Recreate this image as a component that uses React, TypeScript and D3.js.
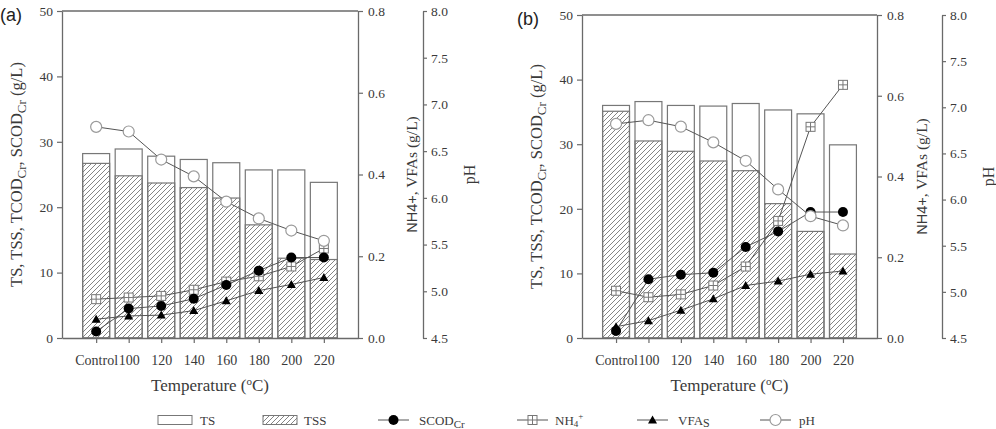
import { useEffect, useRef } from 'react'
import * as d3 from 'd3'

const categories = ['Control', '100', '120', '140', '160', '180', '200', '220']

// panel (a)
const tsA = [28.2, 28.9, 27.8, 27.3, 26.8, 25.7, 25.7, 23.8]
const tssA = [26.7, 24.8, 23.7, 23.0, 21.4, 17.3, 12.2, 12.0]
const scodA = [1.0, 4.5, 4.9, 6.0, 8.1, 10.3, 12.3, 12.3]
const nh4A = [0.095, 0.099, 0.103, 0.118, 0.138, 0.151, 0.175, 0.219]
const vfaA = [0.046, 0.054, 0.056, 0.067, 0.091, 0.116, 0.131, 0.148]
const phA = [6.76, 6.71, 6.41, 6.23, 5.96, 5.78, 5.65, 5.54]

// panel (b)
const tsB = [36.0, 36.6, 36.0, 35.9, 36.3, 35.3, 34.7, 29.9]
const tssB = [35.1, 30.5, 28.9, 27.4, 25.9, 20.8, 16.5, 13.0]
const scodB = [1.1, 9.1, 9.8, 10.1, 14.1, 16.5, 19.5, 19.5]
const nh4B = [0.117, 0.101, 0.108, 0.130, 0.177, 0.290, 0.523, 0.627]
const vfaB = [0.028, 0.043, 0.069, 0.097, 0.130, 0.141, 0.158, 0.166]
const phB = [6.82, 6.86, 6.79, 6.62, 6.42, 6.11, 5.82, 5.72]

const leftTicks = [0, 10, 20, 30, 40, 50]
const rightTicks = [0, 0.2, 0.4, 0.6, 0.8]
const phTicks = [4.5, 5.0, 5.5, 6.0, 6.5, 7.0, 7.5, 8.0]

const SERIF = '"Liberation Serif", "Times New Roman", serif'
const SANS = '"Liberation Sans", Arial, sans-serif'
const AXIS = '#6a6a6a'
const TEXT = '#3a3a3a'
const LINE = '#555'

type Sel = d3.Selection<SVGGElement, unknown, null, undefined>

interface Panel {
  tag: string
  left: number
  right: number
  top: number
  bottom: number
  rightLabelX: number
  ts: number[]
  tss: number[]
  scod: number[]
  nh4: number[]
  vfa: number[]
  ph: number[]
}

const panels: Panel[] = [
  { tag: '(a)', left: 62, right: 358, top: 11, bottom: 338, rightLabelX: 417,
    ts: tsA, tss: tssA, scod: scodA, nh4: nh4A, vfa: vfaA, ph: phA },
  { tag: '(b)', left: 582, right: 877, top: 15, bottom: 338, rightLabelX: 927,
    ts: tsB, tss: tssB, scod: scodB, nh4: nh4B, vfa: vfaB, ph: phB },
]

function styleAxis(a: Sel, size = '13.5px') {
  a.select('.domain').attr('stroke', AXIS).attr('stroke-width', 1.3)
  a.selectAll('.tick line').attr('stroke', AXIS).attr('stroke-width', 1.2)
  a.selectAll('.tick text')
    .attr('fill', TEXT)
    .style('font-family', SERIF)
    .style('font-size', size)
}

// marker helpers
function filledCircle(g: Sel, cx: number, cy: number) {
  g.append('circle').attr('cx', cx).attr('cy', cy).attr('r', 5).attr('fill', '#000')
}
function openCircle(g: Sel, cx: number, cy: number) {
  g.append('circle').attr('cx', cx).attr('cy', cy).attr('r', 5.5)
    .attr('fill', '#fff').attr('stroke', '#9a9a9a').attr('stroke-width', 1.2)
}
function crossSquare(g: Sel, cx: number, cy: number) {
  const s = 4.5
  g.append('rect').attr('x', cx - s).attr('y', cy - s).attr('width', 2 * s).attr('height', 2 * s)
    .attr('fill', '#fff').attr('stroke', '#777').attr('stroke-width', 1)
  g.append('path').attr('d', `M${cx - s},${cy}H${cx + s}M${cx},${cy - s}V${cy + s}`)
    .attr('stroke', '#777').attr('stroke-width', 1)
}
function triangle(g: Sel, cx: number, cy: number) {
  g.append('path').attr('d', `M${cx},${cy - 4.5}L${cx + 4.5},${cy + 3.5}L${cx - 4.5},${cy + 3.5}Z`)
    .attr('fill', '#000')
}

function drawPanel(svg: Sel, p: Panel) {
  const x = d3.scalePoint<string>().domain(categories).range([p.left, p.right]).padding(1.05)
  const y = d3.scaleLinear().domain([0, 50]).range([p.bottom, p.top])
  const yR = d3.scaleLinear().domain([0, 0.8]).range([p.bottom, p.top])
  const yPh = d3.scaleLinear().domain([4.5, 8]).range([p.bottom, p.top])
  const bw = x.step() * 0.83
  const g = svg.append('g')

  // bars: TS outline, TSS hatched
  g.selectAll('.ts').data(p.ts).join('rect')
    .attr('x', (d, i) => x(categories[i])! - bw / 2)
    .attr('y', d => y(d))
    .attr('width', bw)
    .attr('height', d => y(0) - y(d))
    .attr('fill', '#fff').attr('stroke', '#777').attr('stroke-width', 1.2)
  g.selectAll('.tss').data(p.tss).join('rect')
    .attr('x', (d, i) => x(categories[i])! - bw / 2)
    .attr('y', d => y(d))
    .attr('width', bw)
    .attr('height', d => y(0) - y(d))
    .attr('fill', 'url(#hatch)').attr('stroke', '#777').attr('stroke-width', 1.2)

  // frame top
  g.append('line').attr('x1', p.left).attr('x2', p.right).attr('y1', p.top).attr('y2', p.top)
    .attr('stroke', AXIS).attr('stroke-width', 1.3)

  // axes
  const ax = g.append('g').attr('transform', `translate(0,${p.bottom})`)
    .call(d3.axisBottom(x).tickSize(5).tickSizeOuter(0).tickPadding(12))
  styleAxis(ax, '14px')
  const al = g.append('g').attr('transform', `translate(${p.left},0)`)
    .call(d3.axisLeft(y).tickValues(leftTicks).tickSize(5).tickSizeOuter(0).tickPadding(4))
  styleAxis(al)
  const ar = g.append('g').attr('transform', `translate(${p.right},0)`)
    .call(d3.axisRight(yR).tickValues(rightTicks).tickFormat(d3.format('.1f')).tickSize(5).tickSizeOuter(0).tickPadding(5))
  styleAxis(ar)
  const ap = g.append('g').attr('transform', `translate(${p.right + 65},0)`)
    .call(d3.axisRight(yPh).tickValues(phTicks).tickFormat(d3.format('.1f')).tickSize(4).tickSizeOuter(0).tickPadding(4))
  styleAxis(ap)

  // series lines
  const series: { vals: number[]; sc: d3.ScaleLinear<number, number>; mk: (g: Sel, cx: number, cy: number) => void }[] = [
    { vals: p.nh4, sc: yR, mk: crossSquare },
    { vals: p.vfa, sc: yR, mk: triangle },
    { vals: p.scod, sc: y, mk: filledCircle },
    { vals: p.ph, sc: yPh, mk: openCircle },
  ]
  series.forEach(s => {
    const line = d3.line<number>().x((d, i) => x(categories[i])!).y(d => s.sc(d))
    g.append('path').attr('d', line(s.vals)).attr('fill', 'none').attr('stroke', LINE).attr('stroke-width', 1)
  })
  series.forEach(s => {
    const mg = g.append('g')
    s.vals.forEach((v, i) => s.mk(mg, x(categories[i])!, s.sc(v)))
  })

  // titles
  const mid = (p.top + p.bottom) / 2
  const lt = g.append('text')
    .attr('transform', `translate(${p.left - 40},${mid}) rotate(-90)`)
    .attr('text-anchor', 'middle')
    .attr('fill', TEXT).style('font-family', SERIF).style('font-size', '16.5px')
  lt.append('tspan').text('TS, TSS, TCOD')
  lt.append('tspan').attr('dy', 4).style('font-size', '13px').text('Cr')
  lt.append('tspan').attr('dy', -4).text(', SCOD')
  lt.append('tspan').attr('dy', 4).style('font-size', '13px').text('Cr')
  lt.append('tspan').attr('dy', -4).text(' (g/L)')

  const rt = g.append('text')
    .attr('transform', `translate(${p.rightLabelX},${mid}) rotate(-90)`)
    .attr('text-anchor', 'middle')
    .attr('fill', TEXT).style('font-size', '15.5px')
  rt.append('tspan').style('font-family', SANS).style('font-size', '14.5px').text('NH4+')
  rt.append('tspan').style('font-family', SERIF).text(', VFAs (g/L)')

  g.append('text')
    .attr('transform', `translate(${p.right + 117},${mid}) rotate(-90)`)
    .attr('text-anchor', 'middle')
    .attr('fill', TEXT).style('font-family', SERIF).style('font-size', '16px')
    .text('pH')

  const xt = g.append('text')
    .attr('x', (p.left + p.right) / 2).attr('y', 391)
    .attr('text-anchor', 'middle')
    .attr('fill', TEXT).style('font-family', SERIF).style('font-size', '17px')
  xt.append('tspan').text('Temperature (')
  xt.append('tspan').attr('dy', -6).style('font-size', '11px').text('o')
  xt.append('tspan').attr('dy', 6).text('C)')

  g.append('text')
    .attr('x', p.tag === '(b)' ? 517 : 0).attr('y', p.top + 10)
    .attr('fill', '#222').style('font-family', SANS).style('font-size', '18px')
    .text(p.tag)
}

function drawLegend(svg: Sel) {
  const g = svg.append('g')
  const ly = 420
  const txt = (xp: number) => g.append('text').attr('x', xp).attr('y', ly + 5)
    .attr('fill', TEXT).style('font-family', SERIF).style('font-size', '13px')

  g.append('rect').attr('x', 158).attr('y', ly - 4.5).attr('width', 34).attr('height', 9)
    .attr('fill', '#fff').attr('stroke', '#777').attr('stroke-width', 1)
  txt(200).text('TS')
  g.append('rect').attr('x', 263).attr('y', ly - 4.5).attr('width', 34).attr('height', 9)
    .attr('fill', 'url(#hatch)').attr('stroke', '#777').attr('stroke-width', 1)
  txt(304).text('TSS')

  const item = (x0: number, mk: (g: Sel, cx: number, cy: number) => void) => {
    g.append('line').attr('x1', x0).attr('x2', x0 + 31).attr('y1', ly).attr('y2', ly)
      .attr('stroke', LINE).attr('stroke-width', 1)
    mk(g, x0 + 15.5, ly)
  }
  item(378, filledCircle)
  const t1 = txt(419)
  t1.append('tspan').text('SCOD')
  t1.append('tspan').attr('dy', 3).style('font-size', '11px').text('Cr')

  item(517, crossSquare)
  const t2 = txt(555)
  t2.append('tspan').text('NH')
  t2.append('tspan').attr('dy', 2).style('font-size', '9px').text('4')
  t2.append('tspan').attr('dy', -8).style('font-size', '9px').text('+')

  item(637, triangle)
  const t3 = txt(678)
  t3.append('tspan').text('VFA')
  t3.append('tspan').attr('dy', 2).style('font-size', '12px').text('S')

  item(760, openCircle)
  txt(799).text('pH')
}

export default function App() {
  const svgRef = useRef<SVGSVGElement>(null)

  useEffect(() => {
    if (!svgRef.current) return
    document.body.style.margin = '0'
    const svg = d3.select(svgRef.current) as unknown as Sel
    svg.selectAll('*').remove()

    // hatch pattern for TSS
    const defs = svg.append('defs')
    defs.append('pattern')
      .attr('id', 'hatch')
      .attr('patternUnits', 'userSpaceOnUse')
      .attr('width', 5).attr('height', 5)
      .append('path')
      .attr('d', 'M-1,1L1,-1M0,5L5,0M4,6L6,4')
      .attr('stroke', '#777').attr('stroke-width', 0.9)

    panels.forEach(p => drawPanel(svg, p))
    drawLegend(svg)
  }, [])

  return <svg ref={svgRef} width={996} height={429} style={{ display: 'block', background: '#fff' }} />
}
